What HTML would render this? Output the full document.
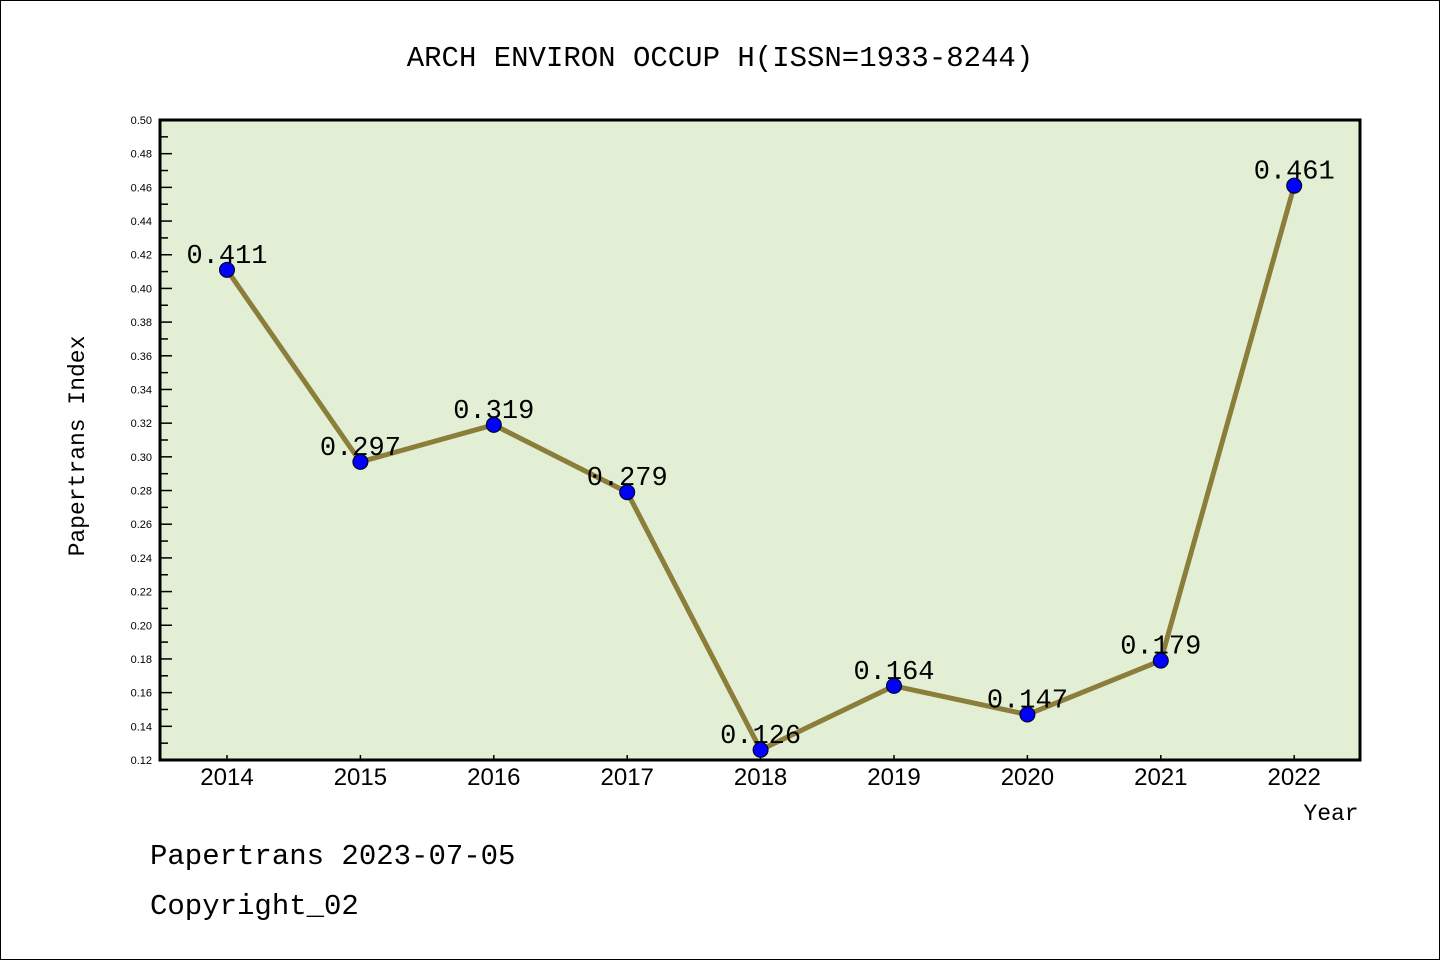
<!DOCTYPE html>
<html><head><meta charset="utf-8"><style>
html,body{margin:0;padding:0;background:#fff;}
svg{display:block;font-family:"Liberation Sans","WenQuanYi Zen Hei",sans-serif;}
</style></head><body>
<svg id="chart" width="1440" height="960" xmlns="http://www.w3.org/2000/svg">
<rect x="0.5" y="0.5" width="1439" height="959" fill="#fff" stroke="#000" stroke-width="1"/>
<text x="720" y="66" text-anchor="middle" font-size="29" font-family="'WenQuanYi Zen Hei','Liberation Mono',monospace">ARCH ENVIRON OCCUP H(ISSN=1933-8244)</text>
<rect x="160" y="120" width="1200" height="640" fill="#e2efd5"/>
<g id="yaxis"></g>
<g id="xaxis"></g>
<g id="series"></g>
<rect x="160" y="120" width="1200" height="640" fill="none" stroke="#000" stroke-width="3"/>
<text transform="translate(84,446) rotate(-90)" text-anchor="middle" font-size="23" font-family="'WenQuanYi Zen Hei','Liberation Mono',monospace">Papertrans Index</text>
<text x="1331" y="820" text-anchor="middle" font-size="23" font-family="'WenQuanYi Zen Hei','Liberation Mono',monospace">Year</text>
<text x="150" y="864" font-size="29" font-family="'WenQuanYi Zen Hei','Liberation Mono',monospace">Papertrans 2023-07-05</text>
<text x="150" y="914" font-size="29" font-family="'WenQuanYi Zen Hei','Liberation Mono',monospace">Copyright_02</text>
</svg>
<script>
const years = ["2014","2015","2016","2017","2018","2019","2020","2021","2022"];
const values = [0.411,0.297,0.319,0.279,0.126,0.164,0.147,0.179,0.461];
const labels = ["0.411","0.297","0.319","0.279","0.126","0.164","0.147","0.179","0.461"];
const yTicks = [0.12,0.14,0.16,0.18,0.20,0.22,0.24,0.26,0.28,0.30,0.32,0.34,0.36,0.38,0.40,0.42,0.44,0.46,0.48,0.50];
const NS="http://www.w3.org/2000/svg";
const yMin=0.12,yMax=0.50,plotTop=120,plotBot=760;
function yS(v){return plotBot-(v-yMin)/(yMax-yMin)*(plotBot-plotTop);}
function xS(i){return 227+i*133.4;}
function mk(t,a,p){const e=document.createElementNS(NS,t);for(const k in a)e.setAttribute(k,a[k]);p.appendChild(e);return e;}
const ya=document.getElementById('yaxis'),xa=document.getElementById('xaxis'),se=document.getElementById('series');
yTicks.forEach((v,i)=>{
  const y=yS(v);
  const l=mk('line',{x1:160,x2:172,y1:y,y2:y,stroke:'#000','stroke-width':1.5},ya);
  
  
  if(i<yTicks.length-1){const ym=yS(v+0.01);
    const m=mk('line',{x1:160,x2:168,y1:ym,y2:ym,stroke:'#000','stroke-width':1.5},ya);
    
    }
  const t=mk('text',{x:152,y:y+4,'text-anchor':'end','font-size':11},ya);
  t.textContent=v.toFixed(2);
  
  
});
years.forEach((yr,i)=>{
  const x=xS(i);
  const l=mk('line',{x1:x,x2:x,y1:755,y2:760,stroke:'#000','stroke-width':1.5},xa);
  
  
  const t=mk('text',{x:x,y:785,'text-anchor':'middle','font-size':24},xa);
  t.textContent=yr;
  
  
});
const pts=values.map((v,i)=>xS(i)+','+yS(v)).join(' ');
const pl=mk('polyline',{points:pts,fill:'none',stroke:'#8b7d3a','stroke-width':5,'stroke-linejoin':'round'},se);


values.forEach((v,i)=>{
  const c=mk('circle',{cx:xS(i),cy:yS(v),r:7.5,fill:'#0000ff',stroke:'#000','stroke-width':1},se);
  
  
  const t=mk('text',{x:xS(i),y:yS(v)-7,'text-anchor':'middle','font-size':27,'font-family':"'WenQuanYi Zen Hei','Liberation Mono',monospace"},se);
  t.textContent=labels[i];
  
  
});
</script>
</body></html>
